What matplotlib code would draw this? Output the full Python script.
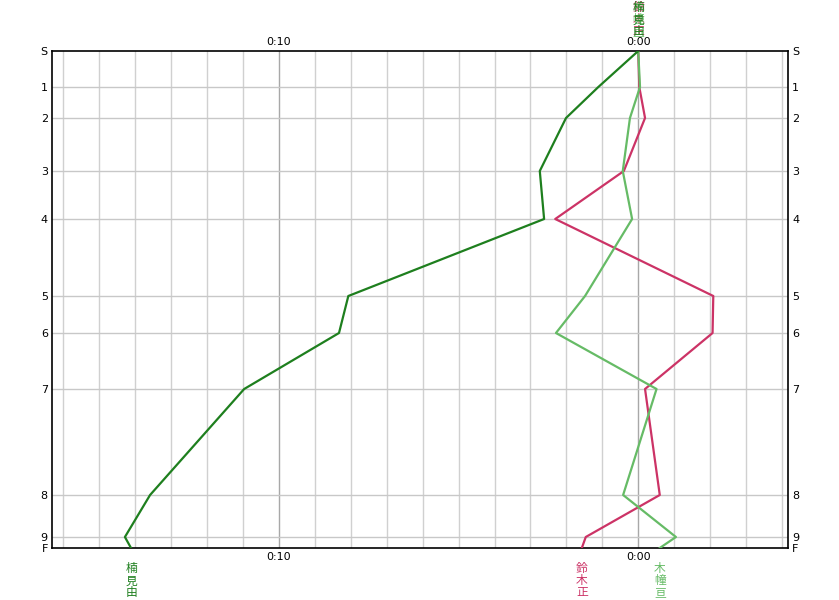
import matplotlib.pyplot as plt
import numpy as np

# posten en (geschaalde) cumulatieve afstand
controls = ['S', '1', '2', '3', '4', '5', '6', '7', '8', '9', 'F']
control_pos = [0, 36, 67, 120, 168, 245, 282, 338, 444, 486, 497]

# achterstand t.o.v. de ideale tijd, in minuten
behind_kusumi = [0, 1.11, 2.01, 2.74, 2.62, 8.07, 8.33, 10.97, 13.59, 14.29, 14.12]
behind_suzuki = [0, -0.03, -0.19, 0.40, 2.31, -2.09, -2.07, -0.19, -0.60, 1.46, 1.57]
behind_kidou = [0, -0.05, 0.23, 0.43, 0.17, 1.48, 2.29, -0.51, 0.42, -1.05, -0.60]

runner_names = ['鈴木正', '木幢亘', '楠見由']
runner_colors = ['#cc3366', '#66bb66', '#1e7f1e']
runner_data = [behind_suzuki, behind_kidou, behind_kusumi]

time_ticks = [10, 0]
time_labels = ['0:10', '0:00']

cjk = ['Noto Sans CJK JP', 'DejaVu Sans']

fig = plt.figure(figsize=(8.39, 6.0), dpi=100)
ax = fig.add_axes([52 / 839, 52 / 600, 736 / 839, 497 / 600])

ax.set_xlim(16.32, -4.17)
ax.set_ylim(497, 0)

# rasterlijnen per minuut
for m in range(-4, 17):
    col = '#a8a8a8' if m % 10 == 0 else '#d0d0d0'
    ax.axvline(m, color=col, lw=1, zorder=1)
for p in control_pos[1:-1]:
    ax.axhline(p, color='#c8c8c8', lw=1, zorder=1)

# lijnen tekenen
for name, col, data in zip(runner_names, runner_colors, runner_data):
    ax.plot(data, control_pos, color=col, lw=1.6, zorder=3)

for s in ax.spines.values():
    s.set_color('black')
    s.set_linewidth(1.2)

ax.set_yticks(control_pos)
ax.set_yticklabels(controls, fontsize=8)
ax.tick_params(axis='y', length=0, pad=3, labelright=True)
ax.set_xticks(time_ticks)
ax.set_xticklabels(time_labels, fontsize=8)
ax.tick_params(axis='x', length=0, pad=3, labeltop=True)

# namen boven (op de start) en onder (bij de finish), teken voor teken
step = 8.64  # 12 px per teken
for name, col, data in zip(runner_names, runner_colors, runner_data):
    for i, ch in enumerate(name):
        ax.annotate(ch, xy=(data[0], 1), xycoords=('data', 'axes fraction'),
                    xytext=(0, 13.7 + (len(name) - 1 - i) * step),
                    textcoords='offset points', ha='center', va='center',
                    color=col, fontsize=8.5, family=cjk)
        ax.annotate(ch, xy=(data[-1], 0), xycoords=('data', 'axes fraction'),
                    xytext=(0, -15.1 - i * step),
                    textcoords='offset points', ha='center', va='center',
                    color=col, fontsize=8.5, family=cjk)

fig.savefig('out.png', dpi=100)
